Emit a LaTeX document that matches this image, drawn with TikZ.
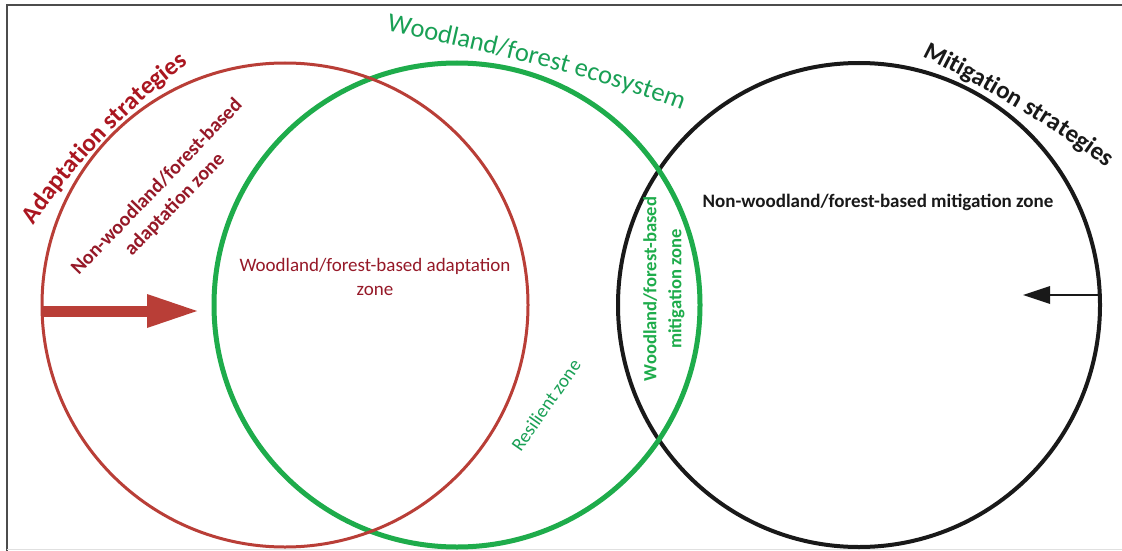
\documentclass[tikz,border=0pt]{standalone}
\usepackage{fontspec}
\setmainfont{Carlito}
\usetikzlibrary{arrows.meta,decorations.text}
\definecolor{adred}{RGB}{185,62,55}
\definecolor{adtitle}{RGB}{170,22,32}
\definecolor{adtext}{RGB}{150,25,40}
\definecolor{fgreen}{RGB}{30,172,75}
\definecolor{ftext}{RGB}{25,160,85}
\definecolor{mblack}{RGB}{25,25,25}
\newcommand\AdTitleFnt{\fontsize{25}{25}\selectfont\bfseries\color{adtitle}}
\newcommand\EcoTitleFnt{\fontsize{26.5}{26.5}\selectfont\color{ftext}}
\newcommand\MiTitleFnt{\fontsize{25}{25}\selectfont\bfseries\color{mblack}}
\begin{document}
\begin{tikzpicture}[x=1pt,y=-1pt,
  lbl/.style={inner sep=0pt, align=center},
  curvetitle/.style={decorate, decoration={text along path, text align=center, text={#1}}}
  ]
\useasboundingbox (0,0) rectangle (1122,551);
\fill[white] (0,0) rectangle (1122,551);
% frame
\draw[line width=2pt, black!70] (7,551) -- (7,5) -- (1122,5);
\draw[line width=1pt, black!12] (7,549) -- (1122,549);
% centres
\coordinate (cR) at (285,305);
\coordinate (cG) at (457,305);
\coordinate (cB) at (859,305);
% rings
\draw[mblack, line width=4pt] (cB) ellipse [x radius=241, y radius=242];
\draw[fgreen, line width=5pt] (cG) ellipse [x radius=243, y radius=242];
\draw[adred, line width=3pt] (cR) ellipse [x radius=243, y radius=242];
% arrows
\coordinate (aS) at (43,311);
\coordinate (aE) at (197,311);
\draw[adred, line width=11pt, -{Triangle[length=50pt,width=34pt,line width=0pt]}] (aS) -- (aE);
\coordinate (bS) at (1099,295);
\coordinate (bE) at (1023,295);
\draw[mblack, line width=2pt, -{Triangle[length=27pt,width=18pt,line width=0pt]}] (bS) -- (bE);
% curved titles
\path[curvetitle={|\AdTitleFnt|Adaptation strategies}] (18,250) .. controls (62,176) and (138,96) .. (212,46);
\path[curvetitle={|\EcoTitleFnt|Woodland/forest ecosystem}] (362,25) .. controls (472,48) and (599,76) .. (705,119);
\path[curvetitle={|\MiTitleFnt|Mitigation strategies}] (893,42) .. controls (967,77) and (1068,133) .. (1132,188);
% zone labels
\node[lbl, text=adtext, font=\bfseries\fontsize{20}{25}\selectfont, rotate=46] (nwa) at (166,196) {Non-woodland/forest-based\\adaptation zone};
\node[lbl, text=adtext, font=\fontsize{19}{24}\selectfont] (wfa) at (375,277) {Woodland/forest-based adaptation\\zone};
\node[lbl, text=ftext, font=\fontsize{19}{22}\selectfont, rotate=55] (res) at (546,405) {Resilient zone};
\node[lbl, text=fgreen, font=\bfseries\fontsize{18.6}{25}\selectfont, rotate=90] (wfm) at (664,289) {Woodland/forest-based\\mitigation zone};
\node[lbl, text=mblack, font=\bfseries\fontsize{19}{22}\selectfont] (nwm) at (878,202) {Non-woodland/forest-based mitigation zone};
\end{tikzpicture}
\end{document}
